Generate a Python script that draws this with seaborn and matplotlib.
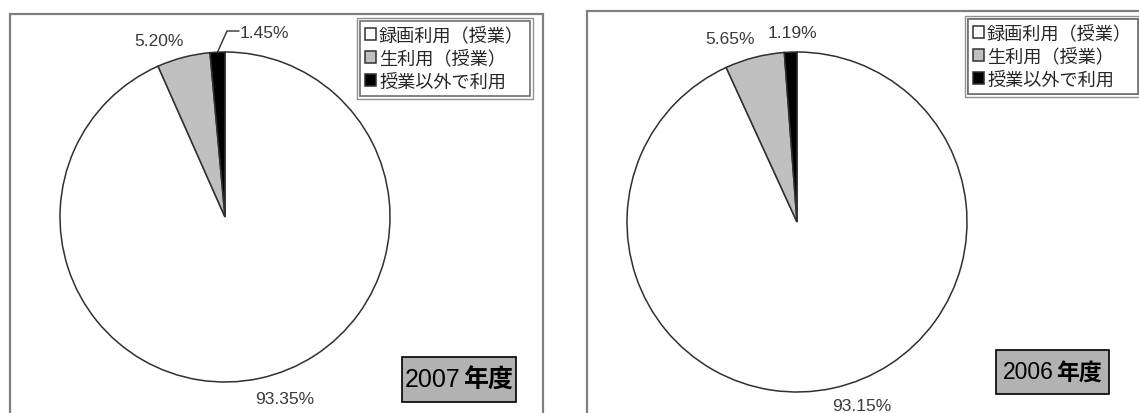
import numpy as np
import matplotlib
matplotlib.use("Agg")
import matplotlib.pyplot as plt
from matplotlib.patches import Rectangle
import seaborn as sns

# Share of use by type, per fiscal year (%)
categories = ["録画利用（授業）", "生利用（授業）", "授業以外で利用"]
share_2007 = [93.35, 5.20, 1.45]
share_2006 = [93.15, 5.65, 1.19]
years = ["2007", "2006"]
year_suffix = "年度"

sns.set_theme(style="white")
plt.rcParams["font.family"] = ["Liberation Sans", "Noto Sans CJK JP", "DejaVu Sans"]

W, H = 1139, 414
fig = plt.figure(figsize=(W / 100, H / 100), dpi=100)
ax = fig.add_axes([0, 0, 1, 1])
slice_colors = ["white", "#c0c0c0", "black"]
label_color = "#3a3a3a"
cjk = ["Noto Sans CJK JP", "DejaVu Sans"]


def Y(y):
    return H - y


panels = [
    dict(values=share_2007, year=years[0], center=(225, 218), radius=165,
         frame=(10, 15, 543), legend=(360, 22), year_box=(402, 358, 516, 403),
         year_size=18, label_pos=[(285, 400), (159, 41), None],
         leader=((227, 32), (239, 32)), small_pos=(240, 33)),
    dict(values=share_2006, year=years[1], center=(797, 223), radius=170,
         frame=(587, 12, 1160), legend=(968, 20), year_box=(996, 351, 1109, 395),
         year_size=16.5, label_pos=[(862, 407), (730, 39), (792, 34)],
         leader=None, small_pos=None),
]

for p in panels:
    cx, cy = p["center"]
    r = p["radius"]

    # panel frame
    fx0, fy0, fx1 = p["frame"]
    ax.add_patch(Rectangle((fx0, Y(440)), fx1 - fx0, 440 - fy0, fill=False,
                           edgecolor="#808080", linewidth=1.6, zorder=1))

    wedges, _ = ax.pie(p["values"], colors=slice_colors, startangle=90,
                       counterclock=False, center=(cx, Y(cy)), radius=r,
                       wedgeprops=dict(edgecolor="#303030", linewidth=1.1),
                       frame=True)

    # value labels
    for i, (v, pos) in enumerate(zip(p["values"], p["label_pos"])):
        txt = f"{v:.2f}%"
        if pos is not None:
            ax.text(pos[0], Y(pos[1]), txt, ha="center", va="center",
                    fontsize=12.5, color=label_color)
        else:
            w = wedges[i]
            mid = np.deg2rad((w.theta1 + w.theta2) / 2)
            x0 = cx + r * np.cos(mid)
            y0 = Y(cy) + r * np.sin(mid)
            (ex, ey), (hx, hy) = p["leader"]
            ax.plot([x0, ex, hx], [y0, Y(ey), Y(hy)], color="#303030",
                    linewidth=1.0)
            sx, sy = p["small_pos"]
            ax.text(sx, Y(sy), txt, ha="left", va="center",
                    fontsize=12.5, color=label_color)

    # legend
    lx, ly = p["legend"]
    leg = ax.legend(wedges, categories, loc="upper left",
                    bbox_to_anchor=(lx / W, 1 - ly / H),
                    bbox_transform=fig.transFigure, borderaxespad=0,
                    prop=dict(family=cjk, size=13.1), frameon=True,
                    fancybox=False, edgecolor="#707070", framealpha=1,
                    handlelength=0.6, handleheight=0.6, handletextpad=0.15,
                    labelspacing=0.28, borderpad=0.3)
    leg.get_frame().set_linewidth(1.2)
    ax.add_artist(leg)
    p["leg"] = leg

    # fiscal year tag
    bx0, by0, bx1, by1 = p["year_box"]
    ax.add_patch(Rectangle((bx0, Y(by1)), bx1 - bx0, by1 - by0,
                           facecolor="#b2b2b2", edgecolor="black",
                           linewidth=1.2, zorder=3))
    bcx = (bx0 + bx1) / 2
    bcy = Y((by0 + by1) / 2)
    ax.text(bcx + 1, bcy, p["year"], ha="right", va="center",
            fontsize=p["year_size"], family=["Liberation Sans"], color="black",
            zorder=4)
    ax.text(bcx + 4, bcy, year_suffix, ha="left", va="center",
            fontsize=p["year_size"], family=cjk, fontweight="bold",
            color="black", zorder=4)

ax.set_xlim(0, W)
ax.set_ylim(0, H)
ax.set_aspect("equal")
ax.axis("off")

# outer ring around each legend box
fig.canvas.draw()
inv = ax.transData.inverted()
for p in panels:
    bb = p["leg"].get_window_extent()
    (x0, y0), (x1, y1) = inv.transform([(bb.x0, bb.y0), (bb.x1, bb.y1)])
    pad = 3
    ax.add_patch(Rectangle((x0 - pad, y0 - pad), x1 - x0 + 2 * pad,
                           y1 - y0 + 2 * pad, fill=False,
                           edgecolor="#909090", linewidth=1.0, zorder=6))

fig.savefig("out.png", dpi=100, facecolor="white")
